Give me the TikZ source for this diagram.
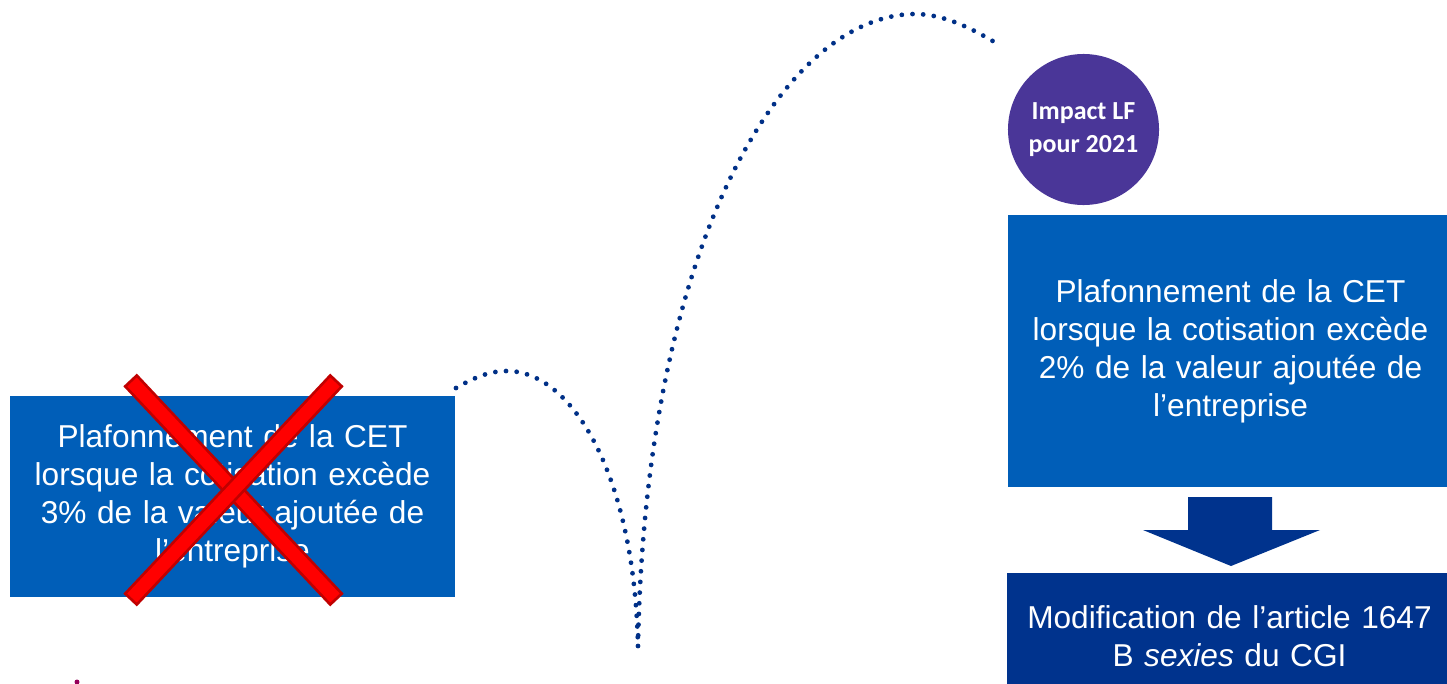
\documentclass[tikz,border=0pt]{standalone}
\usepackage{fontspec}
\setmainfont{Liberation Sans}
\newfontfamily\carlito{Carlito}
\usetikzlibrary{calc}

\definecolor{ceblue}{RGB}{0,94,184}
\definecolor{cenavy}{RGB}{0,51,141}
\definecolor{dotnavy}{RGB}{0,48,135}
\definecolor{lfpurple}{RGB}{74,54,152}
\definecolor{xred}{RGB}{255,0,0}
\definecolor{xdarkred}{RGB}{192,0,0}
\definecolor{speck}{RGB}{150,0,90}

\begin{document}
\begin{tikzpicture}[
    x=0.025cm, y=-0.025cm,
    % Define styles
    textbox/.style={
        fill=#1,
        minimum width=11.125cm,
        text width=10.6cm,
        align=center,
        inner sep=0pt,
        font=\fontsize{22.5}{27}\selectfont,
        text=white
    },
    badge/.style={
        circle,
        fill=lfpurple,
        minimum size=3.775cm,
        inner sep=0pt,
        align=center,
        font=\carlito\bfseries\fontsize{18.5}{23.4}\selectfont,
        text=white
    },
    crossbar/.style={
        draw=xred,
        line width=0.325cm,
        preaction={draw=xdarkred, line width=0.4625cm,
            shorten <=-0.07cm, shorten >=-0.07cm}
    },
    bounce/.style={
        dotnavy,
        line width=3.4pt,
        line cap=round,
        dash pattern=on 0pt off 7.6pt
    }
]
\useasboundingbox (0,0) rectangle (1447,684);

% ============================================================
% Old rule (crossed out)
% ============================================================
\node[textbox=ceblue, minimum height=5.025cm] (old) at (232.5,496.5)
    {Plafonnement de la CET\\lorsque la cotisation excède\\3\% de la valeur ajoutée de\\l’entreprise};

\coordinate (xa) at (132,382);
\coordinate (xb) at (335,598);
\coordinate (xc) at (335,382);
\coordinate (xd) at (132,598);
\draw[crossbar] (xa) -- (xb);
\draw[crossbar] (xc) -- (xd);

% ============================================================
% Impact badge + new rule
% ============================================================
\node[badge] (impact) at (1083.5,129.5) {Impact LF\\pour 2021};

\node[textbox=ceblue, minimum height=6.8cm] (new) at (1230.5,351)
    {Plafonnement de la CET\\lorsque la cotisation excède\\2\% de la valeur ajoutée de\\l’entreprise};

\node[textbox=cenavy, minimum height=3.15cm] (cgi) at (1229.5,636)
    {Modification de l’article 1647\\B \textit{sexies} du CGI};

% block arrow between the two
\fill[cenavy] (1188,497) -- (1272,497) -- (1272,530) -- (1320,530)
    -- (1231,566) -- (1143,530) -- (1188,530) -- cycle;

% ============================================================
% Bouncing dotted path
% ============================================================
\coordinate (hopstart) at (456,388);
\coordinate (hoptop1) at (507,371);
\coordinate (hopland) at (638,646);
\coordinate (hoptop2) at (915,14);
\coordinate (hopend) at (1001,46);

\draw[bounce] (hopstart) .. controls (475,377) and (490,371) .. (hoptop1)
    .. controls (570,371) and (634,470) .. (hopland);
\draw[bounce] (hopland) .. controls (645,250) and (780,15) .. (hoptop2)
    .. controls (945,14) and (975,30) .. (hopend);

% cut-off mark at the bottom edge
\fill[speck] (77,682) circle (2.5);

\end{tikzpicture}
\end{document}
